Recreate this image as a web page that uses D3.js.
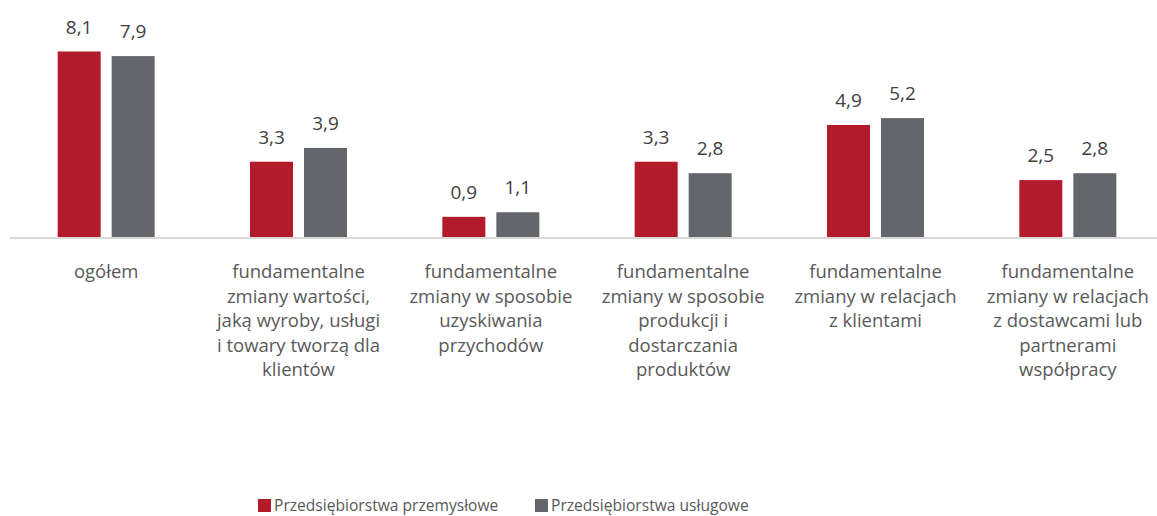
<!DOCTYPE html>
<html lang="pl">
<head>
<meta charset="UTF-8">
<title>Zmiany fundamentalne</title>
<script src="https://d3js.org/d3.v7.min.js"></script>
<style>
    body { margin: 0; background: #ffffff; }
    svg { display: block; font-family: 'Open Sans', 'Noto Sans', sans-serif; }
    .val { fill: #404040; font-size: 19px; }
    .cat { fill: #595959; font-size: 18.5px; }
    .leg { fill: #595959; font-size: 15.6px; }
</style>
</head>
<body>
<div id="chart"></div>
<script>
    // categories (line breaks as in the original)
    const categories = [
        "ogółem",
        "fundamentalne\nzmiany wartości,\njaką wyroby, usługi\ni towary tworzą dla\nklientów",
        "fundamentalne\nzmiany w sposobie\nuzyskiwania\nprzychodów",
        "fundamentalne\nzmiany w sposobie\nprodukcji i\ndostarczania\nproduktów",
        "fundamentalne\nzmiany w relacjach\nz klientami",
        "fundamentalne\nzmiany w relacjach\nz dostawcami lub\npartnerami\nwspółpracy"
    ];
    const seriesNames = ["Przedsiębiorstwa przemysłowe", "Przedsiębiorstwa usługowe"];
    const przemyslowe = [8.1, 3.3, 0.9, 3.3, 4.9, 2.5];
    const uslugowe = [7.9, 3.9, 1.1, 2.8, 5.2, 2.8];
    const colors = ["#b31b2a", "#63666a"];

    const width = 1157, height = 516;
    const baseY = 237.5;

    const svg = d3.select("#chart").append("svg")
        .attr("width", width).attr("height", height);

    const x = d3.scaleBand().domain(d3.range(categories.length)).range([10, 1164]);
    const y = d3.scaleLinear().domain([0, 8.1]).range([baseY, 51.5]);
    const barW = 43, gap = 11;
    const offset = (x.bandwidth() - 2 * barW - gap) / 2;

    const series = [przemyslowe, uslugowe];
    const rows = [];
    series.forEach((vals, s) => vals.forEach((v, i) => rows.push({ s, i, v })));

    const bx = d => x(d.i) + offset + d.s * (barW + gap);

    svg.append("g").selectAll("rect")
        .data(rows).join("rect")
        .attr("x", bx)
        .attr("y", d => y(d.v))
        .attr("width", barW)
        .attr("height", d => baseY - y(d.v))
        .attr("fill", d => colors[d.s]);

    svg.append("line")
        .attr("x1", 10).attr("x2", width)
        .attr("y1", baseY + 0.5).attr("y2", baseY + 0.5)
        .attr("stroke", "#d9d9d9").attr("stroke-width", 2);

    // value labels
    svg.append("g").selectAll("text")
        .data(rows).join("text")
        .attr("class", "val")
        .attr("x", d => bx(d) + barW / 2)
        .attr("y", d => y(d.v) - 18)
        .attr("text-anchor", "middle")
        .text(d => d.v.toFixed(1).replace(".", ","));

    // category labels
    const cat = svg.append("g").selectAll("text")
        .data(categories).join("text")
        .attr("class", "cat")
        .attr("text-anchor", "middle")
        .attr("transform", (d, i) => `translate(${x(i) + x.bandwidth() / 2},${278})`);
    cat.selectAll("tspan")
        .data(d => d.split("\n")).join("tspan")
        .attr("x", 0)
        .attr("y", (d, j) => j * 24.5)
        .text(d => d);

    // legend
    const legX = [258, 535];
    const leg = svg.append("g").selectAll("g")
        .data(seriesNames).join("g")
        .attr("transform", (d, i) => `translate(${legX[i]},499)`);
    leg.append("rect").attr("width", 13).attr("height", 13).attr("fill", (d, i) => colors[i]);
    leg.append("text").attr("class", "leg").attr("x", 16).attr("y", 12).text(d => d);
</script>
</body>
</html>
